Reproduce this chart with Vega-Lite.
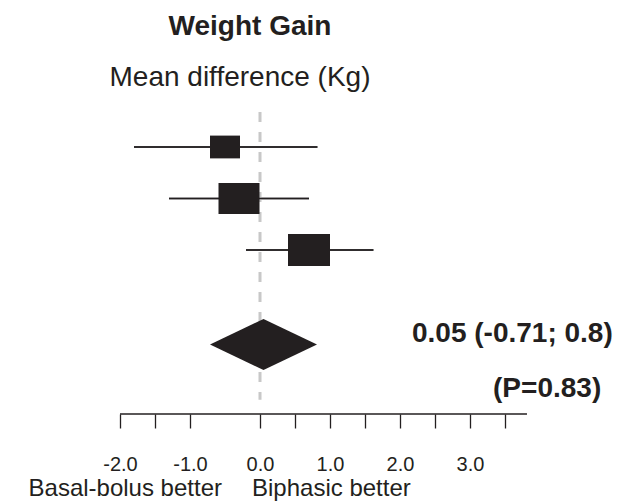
{
  "$schema": "https://vega.github.io/schema/vega-lite/v6.json",
  "width": 620,
  "height": 502,
  "autosize": "none",
  "padding": 0,
  "background": "white",
  "config": {"view": {"stroke": null}, "font": "Liberation Sans"},
  "datasets": {
    "studies": [
      {"study": "Study 1", "md": -0.5, "lower": -1.8, "upper": 0.82, "weight": 20.7, "row": 1},
      {"study": "Study 2", "md": -0.3, "lower": -1.3, "upper": 0.7, "weight": 38.7, "row": 2},
      {"study": "Study 3", "md": 0.7, "lower": -0.2, "upper": 1.62, "weight": 40.6, "row": 3}
    ],
    "pooled": [
      {"study": "Overall", "md": 0.05, "lower": -0.71, "upper": 0.8, "p": 0.83}
    ]
  },
  "layer": [
    {
      "data": {"name": "studies"},
      "mark": {"type": "rule", "color": "#231f20", "strokeWidth": 1.5},
      "encoding": {
        "x": {
          "field": "lower",
          "type": "quantitative",
          "scale": {"domain": [-3.7142857, 5.1428571], "nice": false, "zero": false},
          "axis": {
            "title": null,
            "grid": false,
            "domain": false,
            "ticks": true,
            "tickColor": "#231f20",
            "tickWidth": 1.3,
            "tickSize": 14,
            "values": [-2, -1.5, -1, 0, 0.5, 1, 1.5, 2, 2.5, 3, 3.5],
            "labelExpr": "datum.value % 1 === 0 ? replace(format(datum.value, '.1f'), '\u2212', '-') : ''",
            "labelFont": "Liberation Sans",
            "labelFontSize": 20,
            "labelColor": "#231f20",
            "labelBaseline": "alphabetic",
            "labelPadding": 42,
            "labelDx": -4,
            "labelOverlap": false,
            "labelFlush": false,
            "offset": -88
          }
        },
        "x2": {"field": "upper"},
        "y": {
          "field": "row",
          "type": "quantitative",
          "scale": {"domain": [-1.854, 7.893], "reverse": true, "nice": false, "zero": false},
          "axis": null
        }
      }
    },
    {
      "data": {"values": [{"ref": 0}]},
      "mark": {"type": "rule", "color": "#c8c8c8", "strokeWidth": 3, "strokeDash": [10, 10]},
      "encoding": {
        "x": {"field": "ref", "type": "quantitative"},
        "y": {"datum": 0.32},
        "y2": {"datum": 5.91}
      }
    },
    {
      "data": {"values": [{"ref": 0}]},
      "mark": {"type": "rule", "color": "#231f20", "strokeWidth": 1.3},
      "encoding": {
        "x": {"datum": -2},
        "x2": {"datum": 3.814},
        "y": {"datum": 6.184}
      }
    },
    {
      "data": {"name": "studies"},
      "mark": {"type": "rule", "color": "#231f20", "strokeWidth": 1.5},
      "encoding": {
        "x": {"field": "lower", "type": "quantitative"},
        "x2": {"field": "upper"},
        "y": {"field": "row", "type": "quantitative"}
      }
    },
    {
      "data": {"name": "studies"},
      "mark": {
        "type": "point",
        "shape": "M-1,-0.76L1,-0.76L1,0.76L-1,0.76Z",
        "filled": true,
        "opacity": 1,
        "color": "#231f20",
        "strokeWidth": 0
      },
      "encoding": {
        "x": {"field": "md", "type": "quantitative"},
        "y": {"field": "row", "type": "quantitative"},
        "size": {
          "field": "weight",
          "type": "quantitative",
          "scale": {"domain": [0, 40.6], "range": [0, 1764]},
          "legend": null
        }
      }
    },
    {
      "data": {"name": "pooled"},
      "mark": {
        "type": "point",
        "shape": "M-1,0L0,-0.477L1,0L0,0.477Z",
        "filled": true,
        "opacity": 1,
        "color": "#231f20",
        "strokeWidth": 0,
        "size": 11449
      },
      "encoding": {
        "x": {"field": "md", "type": "quantitative"},
        "y": {"datum": 4.835}
      }
    },
    {
      "data": {"values": [{"label": "Weight Gain"}]},
      "mark": {"type": "text", "font": "Liberation Sans", "fontSize": 28, "fontWeight": "bold", "align": "center", "baseline": "alphabetic", "color": "#231f20"},
      "encoding": {"text": {"field": "label"}, "x": {"datum": -0.143}, "y": {"datum": -1.175}}
    },
    {
      "data": {"values": [{"label": "Mean difference (Kg)"}]},
      "mark": {"type": "text", "font": "Liberation Sans", "fontSize": 28, "align": "center", "baseline": "alphabetic", "color": "#231f20"},
      "encoding": {"text": {"field": "label"}, "x": {"datum": -0.286}, "y": {"datum": -0.184}}
    },
    {
      "data": {"values": [{"label": "0.05 (-0.71; 0.8)"}]},
      "mark": {"type": "text", "font": "Liberation Sans", "fontSize": 28, "fontWeight": "bold", "align": "left", "baseline": "alphabetic", "color": "#231f20"},
      "encoding": {"text": {"field": "label"}, "x": {"datum": 2.171}, "y": {"datum": 4.786}}
    },
    {
      "data": {"values": [{"label": "(P=0.83)"}]},
      "mark": {"type": "text", "font": "Liberation Sans", "fontSize": 28, "fontWeight": "bold", "align": "left", "baseline": "alphabetic", "color": "#231f20"},
      "encoding": {"text": {"field": "label"}, "x": {"datum": 3.329}, "y": {"datum": 5.854}}
    },
    {
      "data": {"values": [{"label": "Basal-bolus better"}]},
      "mark": {"type": "text", "font": "Liberation Sans", "fontSize": 24, "align": "right", "baseline": "alphabetic", "color": "#231f20"},
      "encoding": {"text": {"field": "label"}, "x": {"datum": -0.543}, "y": {"datum": 7.777}}
    },
    {
      "data": {"values": [{"label": "Biphasic better"}]},
      "mark": {"type": "text", "font": "Liberation Sans", "fontSize": 24, "align": "left", "baseline": "alphabetic", "color": "#231f20"},
      "encoding": {"text": {"field": "label"}, "x": {"datum": -0.114}, "y": {"datum": 7.777}}
    }
  ]
}
